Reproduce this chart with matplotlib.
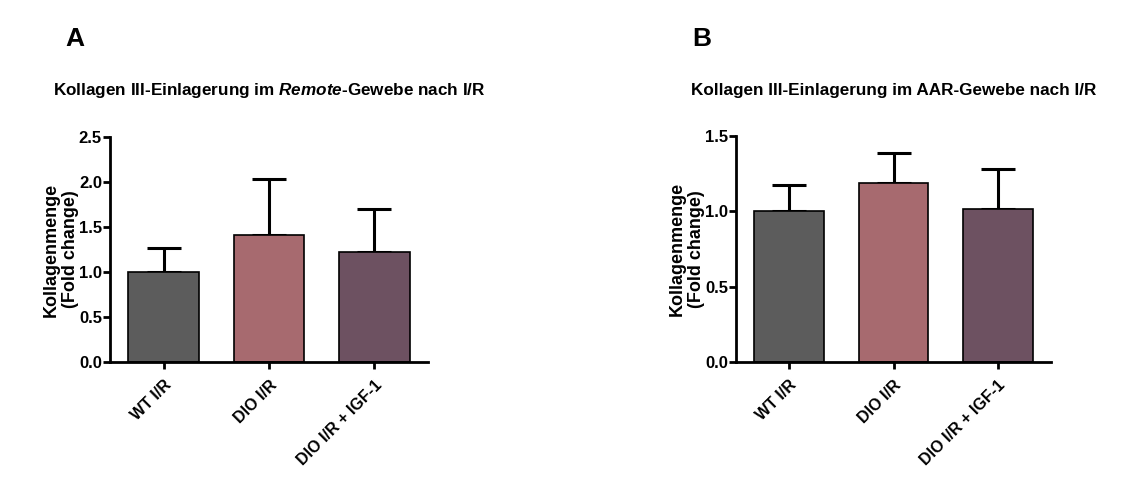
import numpy as np
import matplotlib
matplotlib.use('Agg')
import matplotlib.pyplot as plt

# Data
groups = ['WT I/R', 'DIO I/R', 'DIO I/R + IGF-1']
remote_mean = [1.00, 1.41, 1.22]
remote_err = [0.27, 0.62, 0.48]
aar_mean = [1.00, 1.19, 1.015]
aar_err = [0.175, 0.195, 0.265]
bar_colors = ['#5c5c5c', '#a76a6f', '#6d5161']

plt.rcParams['font.family'] = ['Liberation Sans', 'DejaVu Sans']
plt.rcParams['font.weight'] = 'bold'
plt.rcParams['mathtext.fontset'] = 'custom'
plt.rcParams['mathtext.rm'] = 'Liberation Sans:bold'
plt.rcParams['mathtext.it'] = 'Liberation Sans:bold:italic'
plt.rcParams['mathtext.bf'] = 'Liberation Sans:bold'

fig = plt.figure(figsize=(11.45, 4.99), dpi=100)
W, H = 1145, 499


def make_axes(left, top, right, bottom):
    return fig.add_axes([left / W, 1 - bottom / H, (right - left) / W, (bottom - top) / H])


def draw_panel(ax, means, errs, ymax, yticks):
    x = np.arange(len(groups))
    ax.bar(x, means, width=0.67, color=bar_colors, edgecolor='black', linewidth=1.2, zorder=2)
    ax.errorbar(x, means, yerr=[np.zeros(len(errs)), errs], fmt='none', ecolor='black',
                elinewidth=2.2, capsize=12.5, capthick=2.2, zorder=1)
    ax.set_xlim(-0.51, 2.51)
    ax.set_ylim(0, ymax)
    ax.set_yticks(yticks)
    ax.set_yticklabels([f'{t:.1f}' for t in yticks], fontsize=12, fontweight='bold')
    ax.set_xticks(x)
    ax.set_xticklabels(groups, rotation=45, ha='right', rotation_mode='anchor',
                       fontsize=11.5, fontweight='bold')
    for s in ['top', 'right']:
        ax.spines[s].set_visible(False)
    for s in ['left', 'bottom']:
        ax.spines[s].set_linewidth(2)
    ax.tick_params(axis='y', width=2, length=5, pad=0.8)
    ax.tick_params(axis='x', width=2, length=5, pad=6)
    ax.set_ylabel('Kollagenmenge\n(Fold change)', fontsize=13, fontweight='bold',
                  linespacing=1.2)
    ax.yaxis.set_label_coords(-0.097, 0.5)


axA = make_axes(110, 137, 428, 362)
draw_panel(axA, remote_mean, remote_err, 2.5, [0.0, 0.5, 1.0, 1.5, 2.0, 2.5])
axB = make_axes(736, 136, 1051, 362)
draw_panel(axB, aar_mean, aar_err, 1.5, [0.0, 0.5, 1.0, 1.5])

fig.text(269 / W, 1 - 91 / H, 'Kollagen III-Einlagerung im $\\mathit{Remote}$-Gewebe nach I/R',
         ha='center', va='center', fontsize=12.3, fontweight='bold')
fig.text(894 / W, 1 - 90 / H, 'Kollagen III-Einlagerung im AAR-Gewebe nach I/R',
         ha='center', va='center', fontsize=12.3, fontweight='bold')
fig.text(65 / W, 1 - 39 / H, 'A', ha='left', va='center', fontsize=19, fontweight='bold')
fig.text(692 / W, 1 - 39 / H, 'B', ha='left', va='center', fontsize=19, fontweight='bold')

fig.savefig('out.png', dpi=100, facecolor='white')
